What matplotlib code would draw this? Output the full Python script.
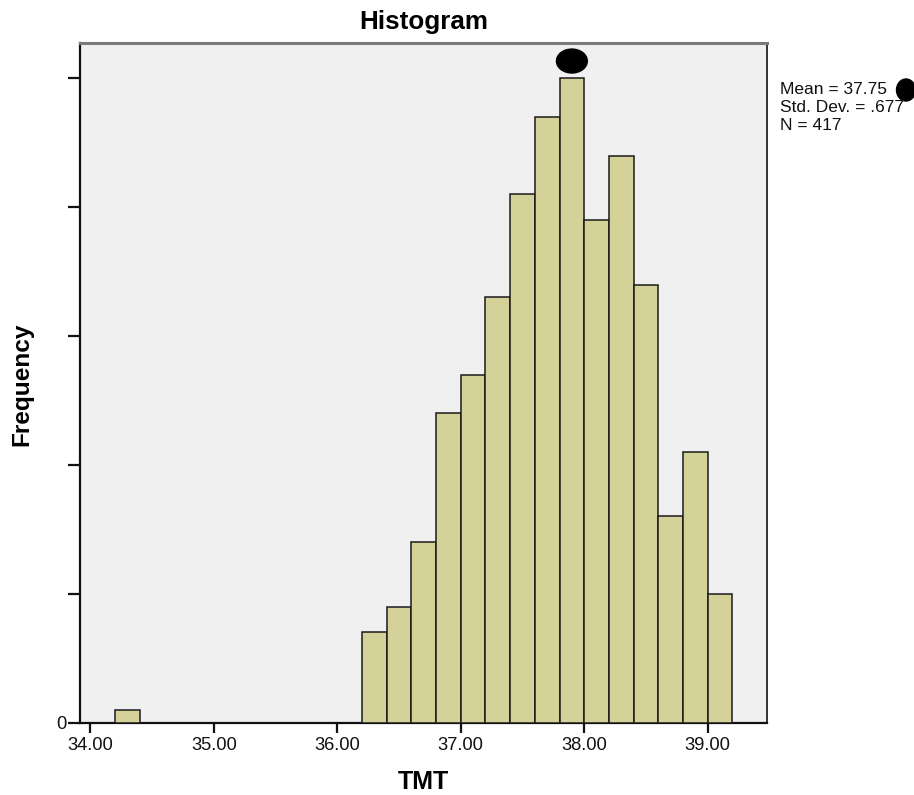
import matplotlib
matplotlib.use("Agg")
import matplotlib.pyplot as plt
from matplotlib.patches import Ellipse
import numpy as np

# ---- data ----
bin_left = [34.2, 36.2, 36.4, 36.6, 36.8, 37.0, 37.2, 37.4, 37.6, 37.8,
            38.0, 38.2, 38.4, 38.6, 38.8, 39.0]
counts = [1, 7, 9, 14, 24, 27, 33, 41, 47, 50, 39, 44, 34, 16, 21, 10]
bin_width = 0.2
x_ticks = [34.0, 35.0, 36.0, 37.0, 38.0, 39.0]
x_tick_labels = ["34.00", "35.00", "36.00", "37.00", "38.00", "39.00"]
y_ticks = [0, 10, 20, 30, 40, 50]
y_tick_labels = ["0", "", "", "", "", ""]
stats_lines = ["Mean = 37.75", "Std. Dev. = .677", "N = 417"]
title = "Histogram"
xlabel = "TMT"
ylabel = "Frequency"

plt.rcParams['font.family'] = ['Liberation Sans', 'DejaVu Sans']

W, H = 914, 795
fig = plt.figure(figsize=(W / 100, H / 100), dpi=100)
ax = fig.add_axes([80 / W, 1 - 722.5 / H, 687 / W, 679.5 / H])
ax.set_facecolor('#f0f0f0')

ax.bar(bin_left, counts, width=bin_width, align='edge',
       color='#d4d298', edgecolor='#1a1a1a', linewidth=1.1, zorder=3)

ax.set_xlim(33.917, 39.48)
ax.set_ylim(0, 52.75)
ax.set_xticks(x_ticks)
ax.set_xticklabels(x_tick_labels, fontsize=13.2)
ax.set_yticks(y_ticks)
ax.set_yticklabels(y_tick_labels, fontsize=13.2)
ax.tick_params(axis='x', direction='out', length=7.5, width=1.6, pad=3, colors='#111111')
ax.tick_params(axis='y', direction='out', length=8.5, width=1.6, pad=1, colors='#111111')

for s in ['left', 'bottom']:
    ax.spines[s].set_color('#111111')
    ax.spines[s].set_linewidth(1.6)
ax.spines['top'].set_color('#7a7a7a')
ax.spines['top'].set_linewidth(2.2)
ax.spines['right'].set_color('#333333')
ax.spines['right'].set_linewidth(1.4)

fig.text(423.5 / W, 1 - 22 / H, title, ha='center', va='center',
         fontsize=18.7, fontweight='bold')
fig.text(423.5 / W, 1 - 782 / H, xlabel, ha='center', va='center',
         fontsize=18, fontweight='bold')
fig.text(22 / W, 1 - 384 / H, ylabel, ha='center', va='center',
         rotation=90, fontsize=17.6, fontweight='bold')

# mean marker above the peak bar
peak = int(np.argmax(counts))
ax.add_patch(Ellipse((bin_left[peak] + bin_width / 2, counts[peak] + 1.35),
                     width=0.25, height=1.86, color='black', zorder=4, clip_on=False))

# stats text
for i, line in enumerate(stats_lines):
    fig.text(780 / W, 1 - (90 + 17.5 * i) / H, line, ha='left', va='center',
             fontsize=12.5, color='#111111')
fig.patches.append(Ellipse((906 / W, 1 - 90 / H), width=19 / W, height=22 / H,
                           transform=fig.transFigure, color='black', figure=fig))

fig.savefig("out.png", dpi=100)
